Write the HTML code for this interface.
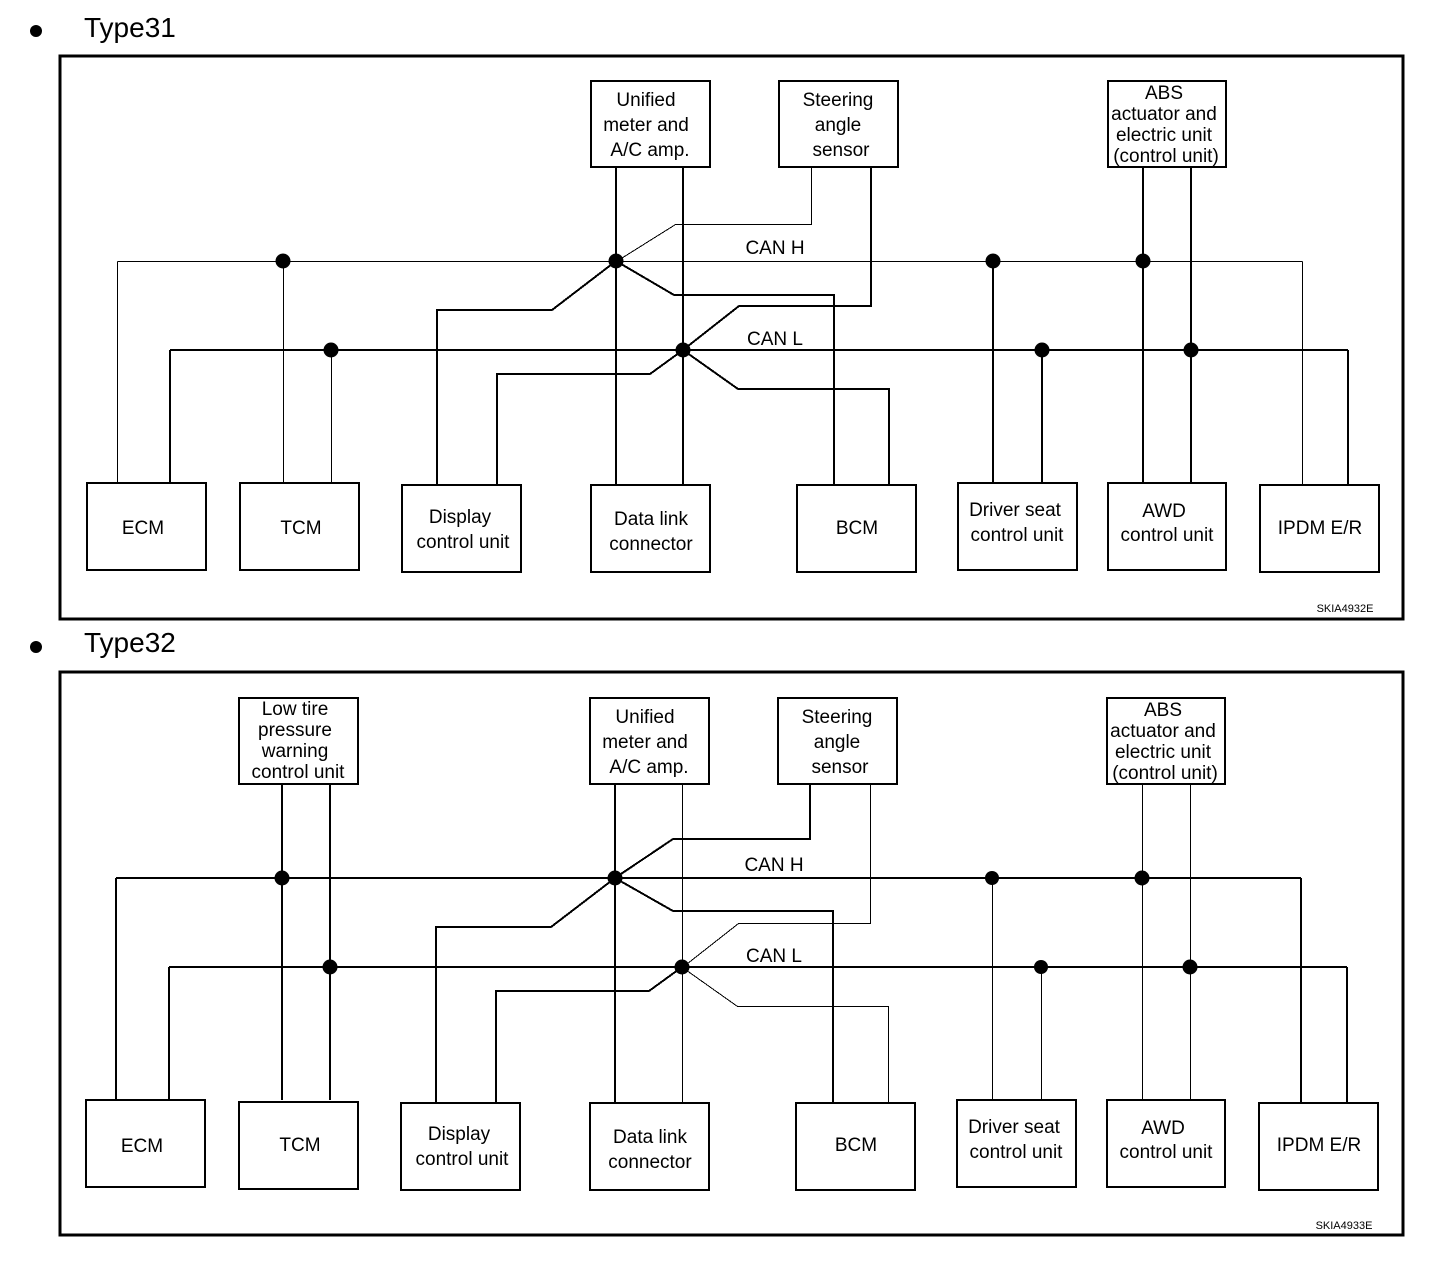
<!DOCTYPE html>
<html><head><meta charset="utf-8"><style>
html,body{margin:0;padding:0;background:#fff;}
svg{display:block;}
text{font-family:"Liberation Sans",Arial,sans-serif;fill:#000;}
</style></head><body>
<svg width="1456" height="1262" viewBox="0 0 1456 1262" xmlns="http://www.w3.org/2000/svg">
<!-- ===== Type31 ===== -->
<circle cx="36" cy="31" r="6" fill="#000"/>
<text x="84" y="37" font-size="28">Type31</text>
<rect x="60" y="56" width="1343" height="563" fill="none" stroke="#000" stroke-width="3"/>
<g fill="none" stroke="#000" stroke-linejoin="miter" shape-rendering="crispEdges">
 <g transform="translate(0.5,0.5)" stroke-width="1">
 <line x1="117" y1="261" x2="1302" y2="261"/>
 <line x1="117" y1="261" x2="117" y2="483"/>
 <line x1="283" y1="261" x2="283" y2="483"/>
 <line x1="331" y1="350" x2="331" y2="483"/>
 <polyline points="811,167 811,224 675,224 616,261"/>
 <line x1="1302" y1="261" x2="1302" y2="485"/>
 </g>
 <g stroke-width="2">
 <line x1="170" y1="350" x2="1348" y2="350"/>
 <line x1="170" y1="350" x2="170" y2="483"/>
 <polyline points="437,485 437,310 552,310 616,261"/>
 <polyline points="497,485 497,374 650,374 683,350"/>
 <line x1="616" y1="167" x2="616" y2="485"/>
 <line x1="683" y1="167" x2="683" y2="485"/>
 <polyline points="871,167 871,306 739,306 683,350"/>
 <polyline points="616,261 674,295 834,295 834,485"/>
 <polyline points="683,350 738,389 889,389 889,485"/>
 <line x1="993" y1="261" x2="993" y2="483"/>
 <line x1="1042" y1="350" x2="1042" y2="483"/>
 <line x1="1143" y1="167" x2="1143" y2="483"/>
 <line x1="1191" y1="167" x2="1191" y2="483"/>
 <line x1="1348" y1="350" x2="1348" y2="485"/>
 </g>
</g>
<g fill="#000">
 <circle cx="283" cy="261" r="7.5"/><circle cx="616" cy="261" r="7.5"/><circle cx="993" cy="261" r="7.5"/><circle cx="1143" cy="261" r="7.5"/>
 <circle cx="331" cy="350" r="7.5"/><circle cx="683" cy="350" r="7.5"/><circle cx="1042" cy="350" r="7.5"/><circle cx="1191" cy="350" r="7.5"/>
</g>
<text x="775" y="254" font-size="19" text-anchor="middle">CAN H</text>
<text x="775" y="345" font-size="19" text-anchor="middle">CAN L</text>
<g fill="#fff" stroke="#000" stroke-width="2">
 <rect x="591" y="81" width="119" height="86"/>
 <rect x="779" y="81" width="119" height="86"/>
 <rect x="1108" y="81" width="118" height="86"/>
 <rect x="87" y="483" width="119" height="87"/>
 <rect x="240" y="483" width="119" height="87"/>
 <rect x="402" y="485" width="119" height="87"/>
 <rect x="591" y="485" width="119" height="87"/>
 <rect x="797" y="485" width="119" height="87"/>
 <rect x="958" y="483" width="119" height="87"/>
 <rect x="1108" y="483" width="118" height="87"/>
 <rect x="1260" y="485" width="119" height="87"/>
</g>
<g font-size="19" text-anchor="middle">
 <text x="646" y="106">Unified</text><text x="646" y="131">meter and</text><text x="650" y="156">A/C amp.</text>
 <text x="838" y="106">Steering</text><text x="838" y="131">angle</text><text x="841" y="156">sensor</text>
 <text x="1164" y="99">ABS</text><text x="1164" y="120">actuator and</text><text x="1164" y="141">electric unit</text><text x="1166" y="162">(control unit)</text>
 <text x="143" y="534">ECM</text>
 <text x="301" y="534">TCM</text>
 <text x="460" y="523">Display</text><text x="463" y="548">control unit</text>
 <text x="651" y="525">Data link</text><text x="651" y="550">connector</text>
 <text x="857" y="534">BCM</text>
 <text x="1015" y="516">Driver seat</text><text x="1017" y="541">control unit</text>
 <text x="1164" y="517">AWD</text><text x="1167" y="541">control unit</text>
 <text x="1320" y="534">IPDM E/R</text>
</g>
<text x="1345" y="612" font-size="11" text-anchor="middle">SKIA4932E</text>

<!-- ===== Type32 ===== -->
<circle cx="36" cy="647" r="6" fill="#000"/>
<text x="84" y="652" font-size="28">Type32</text>
<rect x="60" y="672" width="1343" height="563" fill="none" stroke="#000" stroke-width="3"/>
<g transform="translate(-1,617)">
<g fill="none" stroke="#000" shape-rendering="crispEdges">
 <g stroke-width="2">
 <line x1="117" y1="261" x2="1302" y2="261"/>
 <line x1="170" y1="350" x2="1348" y2="350"/>
 <line x1="117" y1="261" x2="117" y2="483"/>
 <line x1="170" y1="350" x2="170" y2="483"/>
 <line x1="283" y1="167" x2="283" y2="483"/>
 <line x1="331" y1="167" x2="331" y2="483"/>
 <polyline points="437,485 437,310 552,310 616,261"/>
 <polyline points="497,485 497,374 650,374 683,350"/>
 <line x1="616" y1="167" x2="616" y2="485"/>
 <polyline points="811,167 811,222 674,222 616,261"/>
 <polyline points="616,261 674,294 834,294 834,485"/>
 <line x1="1302" y1="261" x2="1302" y2="485"/>
 <line x1="1348" y1="350" x2="1348" y2="485"/>
 </g>
 <g transform="translate(0.5,0.5)" stroke-width="1">
 <line x1="683" y1="167" x2="683" y2="485"/>
 <polyline points="871,167 871,306 739,306 683,350"/>
 <polyline points="683,350 738,389 889,389 889,485"/>
 <line x1="993" y1="261" x2="993" y2="483"/>
 <line x1="1042" y1="350" x2="1042" y2="483"/>
 <line x1="1143" y1="167" x2="1143" y2="483"/>
 <line x1="1191" y1="167" x2="1191" y2="483"/>
 </g>
</g>
<g fill="#000">
 <circle cx="283" cy="261" r="7.5"/><circle cx="616" cy="261" r="7.5"/><circle cx="993" cy="261" r="7"/><circle cx="1143" cy="261" r="7.5"/>
 <circle cx="331" cy="350" r="7.5"/><circle cx="683" cy="350" r="7.5"/><circle cx="1042" cy="350" r="7"/><circle cx="1191" cy="350" r="7.5"/>
</g>
<text x="775" y="254" font-size="19" text-anchor="middle">CAN H</text>
<text x="775" y="345" font-size="19" text-anchor="middle">CAN L</text>
<g fill="#fff" stroke="#000" stroke-width="2">
 <rect x="240" y="81" width="119" height="86"/>
 <rect x="591" y="81" width="119" height="86"/>
 <rect x="779" y="81" width="119" height="86"/>
 <rect x="1108" y="81" width="118" height="86"/>
 <rect x="87" y="483" width="119" height="87"/>
 <rect x="240" y="485" width="119" height="87"/>
 <rect x="402" y="486" width="119" height="87"/>
 <rect x="591" y="486" width="119" height="87"/>
 <rect x="797" y="486" width="119" height="87"/>
 <rect x="958" y="483" width="119" height="87"/>
 <rect x="1108" y="483" width="118" height="87"/>
 <rect x="1260" y="486" width="119" height="87"/>
</g>
<g font-size="19" text-anchor="middle">
 <text x="296" y="98">Low tire</text><text x="296" y="119">pressure</text><text x="296" y="140">warning</text><text x="299" y="161">control unit</text>
 <text x="646" y="106">Unified</text><text x="646" y="131">meter and</text><text x="650" y="156">A/C amp.</text>
 <text x="838" y="106">Steering</text><text x="838" y="131">angle</text><text x="841" y="156">sensor</text>
 <text x="1164" y="99">ABS</text><text x="1164" y="120">actuator and</text><text x="1164" y="141">electric unit</text><text x="1166" y="162">(control unit)</text>
 <text x="143" y="535">ECM</text>
 <text x="301" y="534">TCM</text>
 <text x="460" y="523">Display</text><text x="463" y="548">control unit</text>
 <text x="651" y="526">Data link</text><text x="651" y="551">connector</text>
 <text x="857" y="534">BCM</text>
 <text x="1015" y="516">Driver seat</text><text x="1017" y="541">control unit</text>
 <text x="1164" y="517">AWD</text><text x="1167" y="541">control unit</text>
 <text x="1320" y="534">IPDM E/R</text>
</g>
<text x="1345" y="612" font-size="11" text-anchor="middle">SKIA4933E</text>
</g>
</svg>
</body></html>
